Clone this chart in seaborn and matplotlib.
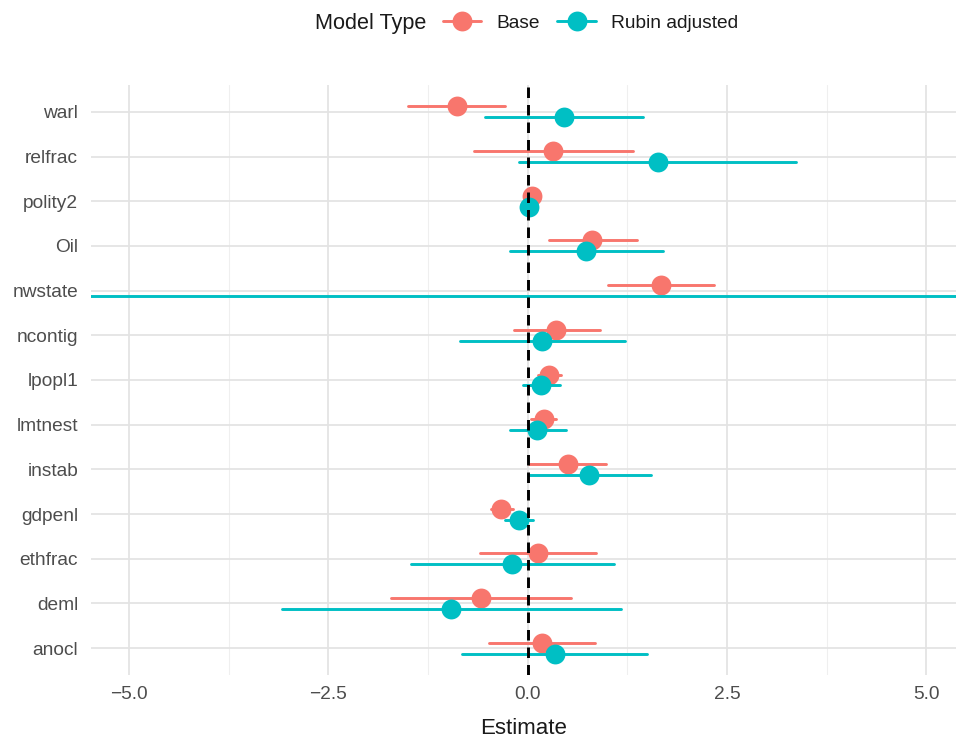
import numpy as np
import pandas as pd
import matplotlib
matplotlib.use("Agg")
import matplotlib.pyplot as plt
from matplotlib.lines import Line2D
import seaborn as sns

# ---- data ----
terms = ["warl", "relfrac", "polity2", "Oil", "nwstate", "ncontig", "lpopl1",
         "lmtnest", "instab", "gdpenl", "ethfrac", "deml", "anocl"]

base_est = [-0.89, 0.32, 0.05, 0.81, 1.67, 0.36, 0.27, 0.20, 0.50, -0.34, 0.13, -0.59, 0.18]
base_lo = [-1.50, -0.67, 0.02, 0.27, 1.01, -0.17, 0.13, 0.04, 0.02, -0.46, -0.60, -1.71, -0.48]
base_hi = [-0.28, 1.32, 0.08, 1.37, 2.34, 0.90, 0.42, 0.36, 0.98, -0.19, 0.85, 0.54, 0.84]

rubin_est = [0.46, 1.63, 0.02, 0.73, -15.5, 0.18, 0.17, 0.12, 0.77, -0.11, -0.20, -0.96, 0.34]
rubin_lo = [-0.53, -0.11, -0.01, -0.22, -40.0, -0.85, -0.06, -0.22, 0.00, -0.28, -1.47, -3.08, -0.83]
rubin_hi = [1.44, 3.37, 0.05, 1.69, 9.0, 1.22, 0.40, 0.48, 1.54, 0.06, 1.08, 1.17, 1.50]

models = ["Base", "Rubin adjusted"]
colors = ["#F8766D", "#00BFC4"]
xticks = [-5.0, -2.5, 0.0, 2.5, 5.0]
xtick_labels = ["\u22125.0", "\u22122.5", "0.0", "2.5", "5.0"]
minor_ticks = [-3.75, -1.25, 1.25, 3.75]

# long table: lower / estimate / upper per term & model
rows = []
for m, est, lo, hi in [(models[0], base_est, base_lo, base_hi),
                       (models[1], rubin_est, rubin_lo, rubin_hi)]:
    for t, e, l, h in zip(terms, est, lo, hi):
        for v in (l, e, h):
            rows.append({"term": t, "model": m, "value": v})
df = pd.DataFrame(rows)

# ---- figure ----
sns.set_theme(style="white")
plt.rcParams["font.family"] = ["Liberation Sans", "DejaVu Sans"]

fig = plt.figure(figsize=(9.56, 7.38), dpi=100)
ax = fig.add_axes([90.7 / 956, 1 - 675 / 738, 1 - 90.7 / 956, (675 - 85) / 738])

MS = 14.3
LW = 2.1

sns.pointplot(data=df, x="value", y="term", hue="model", order=terms,
              hue_order=models, palette=colors, estimator="median",
              errorbar=("pi", 100), dodge=0.245, linestyle="none",
              marker="o", markersize=MS, markeredgewidth=0,
              err_kws={"linewidth": LW}, capsize=0, legend=False, ax=ax)

ax.axvline(0, color="black", linewidth=2.1, linestyle=(0, (3.6, 2.4)), zorder=10)

ax.set_xlim(-5.48, 5.37)
ax.set_ylim(len(terms) - 0.4, -0.6)
ax.set_xticks(xticks)
ax.set_xticklabels(xtick_labels)
ax.set_xticks(minor_ticks, minor=True)

# grid (after the categorical plot, which switches it off)
ax.grid(True, which="major", axis="both", color="#E3E3E3", linewidth=1.25, zorder=0)
ax.grid(True, which="minor", axis="x", color="#EFEFEF", linewidth=0.8, zorder=0)
ax.grid(False, which="minor", axis="y")
ax.set_axisbelow(True)

for s in ax.spines.values():
    s.set_visible(False)
ax.tick_params(axis="both", which="both", length=0, labelsize=13.8, labelcolor="#4D4D4D")
ax.tick_params(axis="y", pad=9)
ax.tick_params(axis="x", pad=8)
ax.set_ylabel("")
ax.set_xlabel("Estimate", fontsize=16, color="#1A1A1A", labelpad=11)

# legend
handles = [Line2D([0], [0], color=c, marker="o", markersize=MS, linewidth=LW,
                  markeredgewidth=0) for c in colors]
fig.text(315 / 956, 1 - 23 / 738, "Model Type", fontsize=15.6, color="#1A1A1A",
         ha="left", va="center")
fig.legend(handles, models, loc="center left",
           bbox_to_anchor=(443 / 956, 1 - 23 / 738), ncol=2, frameon=False,
           fontsize=13.8, handlelength=2.0, handletextpad=0.8, columnspacing=0.9,
           borderpad=0, borderaxespad=0, labelcolor="#1A1A1A")

fig.savefig("out.png", dpi=100)
